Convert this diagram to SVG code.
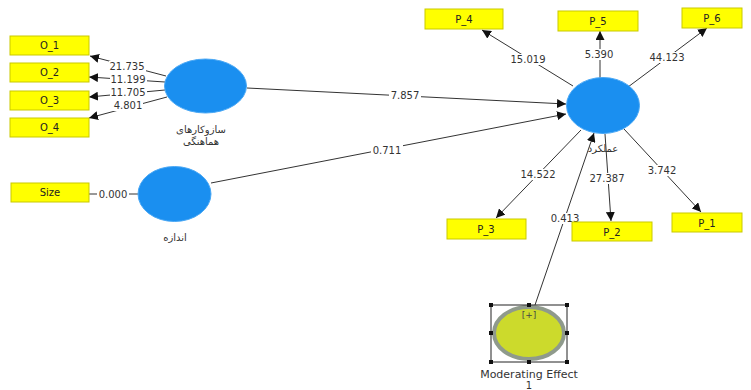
<svg xmlns="http://www.w3.org/2000/svg" width="751" height="390" viewBox="0 0 751 390">
<defs>
<marker id="ah" viewBox="0 0 10 10" refX="10" refY="5" markerWidth="9" markerHeight="9" markerUnits="userSpaceOnUse" orient="auto">
<path d="M0,0 L10,5 L0,10 z" fill="#111"/>
</marker>
<style>
.box{fill:#ffff00;stroke:#c9c900;stroke-width:1}
.bt{font-family:"DejaVu Sans","Liberation Sans",sans-serif;font-size:10px;fill:#222;text-anchor:middle}
.lv{fill:#1a8ff0;stroke:#4aa8f5;stroke-width:1}
.ar{font-family:"DejaVu Sans","Noto Sans",sans-serif;font-size:10px;fill:#333;text-anchor:middle}
.ln{stroke:#333;stroke-width:1;fill:none}
.lnA{stroke:#333;stroke-width:1;fill:none;marker-end:url(#ah)}
.lb{font-family:"DejaVu Sans","Liberation Sans",sans-serif;font-size:10px;fill:#333;text-anchor:middle}
.bg{fill:#fff}
.hd{fill:#111}
</style>
</defs>
<rect width="751" height="390" fill="#fff"/>

<g id="connectors">
<line class="lnA" x1="166" y1="76" x2="90" y2="56"/>
<line class="lnA" x1="165" y1="82" x2="89" y2="77"/>
<line class="lnA" x1="165" y1="90" x2="89" y2="97"/>
<line class="lnA" x1="167" y1="97" x2="89" y2="118"/>
<line class="ln" x1="89" y1="194" x2="138" y2="194"/>
<line class="lnA" x1="247" y1="88" x2="566" y2="104"/>
<line class="lnA" x1="211" y1="183" x2="566" y2="114"/>
<line class="lnA" x1="573" y1="86" x2="482" y2="30"/>
<line class="lnA" x1="600" y1="78" x2="600" y2="31"/>
<line class="lnA" x1="628" y1="87" x2="707" y2="28"/>
<line class="lnA" x1="581" y1="130" x2="496" y2="218"/>
<line class="lnA" x1="605" y1="134" x2="611" y2="221"/>
<line class="lnA" x1="624" y1="129" x2="701" y2="212"/>
<line class="lnA" x1="535" y1="305" x2="594" y2="133"/>
<rect class="bg" x="109" y="61" width="37" height="11"/><text class="lb" x="127" y="70">21.735</text>
<rect class="bg" x="110" y="74" width="37" height="11"/><text class="lb" x="128" y="83">11.199</text>
<rect class="bg" x="110" y="87" width="37" height="11"/><text class="lb" x="128" y="96">11.705</text>
<rect class="bg" x="113" y="100" width="30" height="11"/><text class="lb" x="128" y="109">4.801</text>
<rect class="bg" x="97" y="189" width="32" height="11"/><text class="lb" x="113" y="198">0.000</text>
<rect class="bg" x="389" y="90" width="32" height="11"/><text class="lb" x="405" y="99">7.857</text>
<rect class="bg" x="371" y="145" width="32" height="11"/><text class="lb" x="387" y="154">0.711</text>
<rect class="bg" x="510" y="54" width="36" height="11"/><text class="lb" x="528" y="63">15.019</text>
<rect class="bg" x="583" y="49" width="32" height="11"/><text class="lb" x="599" y="58">5.390</text>
<rect class="bg" x="649" y="52" width="36" height="11"/><text class="lb" x="667" y="61">44.123</text>
<rect class="bg" x="520" y="169" width="36" height="11"/><text class="lb" x="538" y="178">14.522</text>
<rect class="bg" x="589" y="173" width="36" height="11"/><text class="lb" x="607" y="182">27.387</text>
<rect class="bg" x="646" y="165" width="32" height="11"/><text class="lb" x="662" y="174">3.742</text>
<rect class="bg" x="549" y="213" width="32" height="11"/><text class="lb" x="565" y="222">0.413</text>
</g>

<g id="O_1"><rect class="box" x="10" y="36" width="79" height="19"/><text class="bt" x="49.5" y="49">O_1</text></g>
<g id="O_2"><rect class="box" x="10" y="63" width="79" height="19"/><text class="bt" x="49.5" y="76">O_2</text></g>
<g id="O_3"><rect class="box" x="10" y="91" width="79" height="19"/><text class="bt" x="49.5" y="104">O_3</text></g>
<g id="O_4"><rect class="box" x="10" y="118" width="79" height="19"/><text class="bt" x="49.5" y="131">O_4</text></g>
<g id="Size"><rect class="box" x="11" y="183" width="78" height="19"/><text class="bt" x="50" y="196">Size</text></g>
<g id="P_4"><rect class="box" x="425" y="9" width="78" height="20"/><text class="bt" x="464" y="23">P_4</text></g>
<g id="P_5"><rect class="box" x="558" y="11" width="80" height="20"/><text class="bt" x="598" y="25">P_5</text></g>
<g id="P_6"><rect class="box" x="682" y="8" width="60" height="20"/><text class="bt" x="712" y="22">P_6</text></g>
<g id="P_3"><rect class="box" x="447" y="219" width="79" height="20"/><text class="bt" x="486" y="233">P_3</text></g>
<g id="P_2"><rect class="box" x="572" y="222" width="80" height="19"/><text class="bt" x="612" y="236">P_2</text></g>
<g id="P_1"><rect class="box" x="672" y="213" width="70" height="19"/><text class="bt" x="707" y="227">P_1</text></g>

<g id="coordination">
<ellipse class="lv" cx="205.5" cy="86" rx="41" ry="27"/>
<text class="ar" x="201" y="133">سازوکارهای</text>
<text class="ar" x="201" y="145">هماهنگی</text>
</g>
<g id="size_lv">
<ellipse class="lv" cx="174.5" cy="194" rx="36.5" ry="27.5"/>
<text class="ar" x="175" y="241">اندازه</text>
</g>
<g id="performance">
<ellipse class="lv" cx="603" cy="105.5" rx="36.5" ry="28"/>
<text class="ar" x="603" y="152">عملکرد</text>
</g>
<g id="moderating">
<ellipse cx="529" cy="333" rx="35" ry="26" fill="#ccda2c" stroke="#8f9a8c" stroke-width="4"/>
<text x="529" y="318" font-family="DejaVu Sans, sans-serif" font-size="9" fill="#444" text-anchor="middle">[+]</text>
<rect x="491" y="305" width="76" height="57" fill="none" stroke="#222" stroke-width="1"/>
<rect class="hd" x="489" y="303" width="4" height="4"/><rect class="hd" x="527" y="303" width="4" height="4"/><rect class="hd" x="565" y="303" width="4" height="4"/>
<rect class="hd" x="489" y="331" width="4" height="4"/><rect class="hd" x="565" y="331" width="4" height="4"/>
<rect class="hd" x="489" y="360" width="4" height="4"/><rect class="hd" x="527" y="360" width="4" height="4"/><rect class="hd" x="565" y="360" width="4" height="4"/>
<text x="529" y="378" font-family="DejaVu Sans, sans-serif" font-size="11" fill="#333" text-anchor="middle">Moderating Effect</text>
<text x="529" y="389" font-family="DejaVu Sans, sans-serif" font-size="10" fill="#333" text-anchor="middle">1</text>
</g>
</svg>
